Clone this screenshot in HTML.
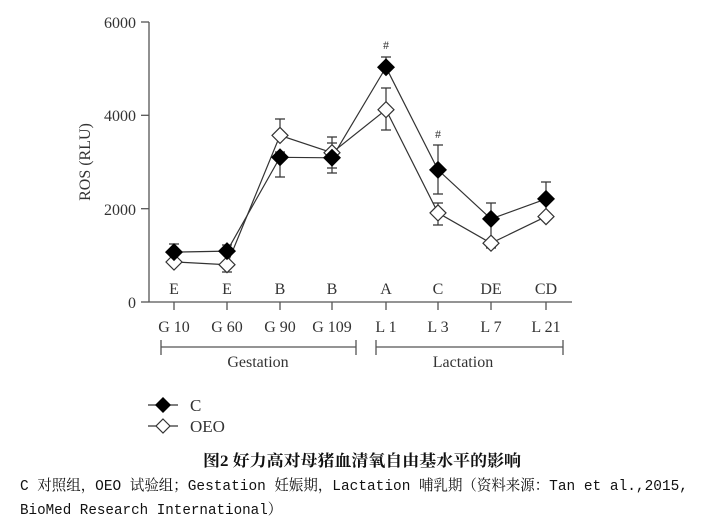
<!DOCTYPE html>
<html><head><meta charset="utf-8"><style>
body{margin:0;background:#fff;width:706px;height:524px;overflow:hidden;}
svg{display:block}
.t{font-family:"Liberation Serif",serif;fill:#333;}
</style></head><body>
<svg width="706" height="524" viewBox="0 0 706 524">
<g stroke="#555" stroke-width="1.3" fill="none">
<line x1="149" y1="22" x2="149" y2="302"/>
<line x1="149" y1="302" x2="572" y2="302"/>
<line x1="141" y1="22" x2="149" y2="22"/>
<line x1="141" y1="115.3" x2="149" y2="115.3"/>
<line x1="141" y1="208.7" x2="149" y2="208.7"/>
<line x1="141" y1="302" x2="149" y2="302"/>
<line x1="174" y1="302" x2="174" y2="310"/>
<line x1="227" y1="302" x2="227" y2="310"/>
<line x1="280" y1="302" x2="280" y2="310"/>
<line x1="332" y1="302" x2="332" y2="310"/>
<line x1="386" y1="302" x2="386" y2="310"/>
<line x1="438" y1="302" x2="438" y2="310"/>
<line x1="491" y1="302" x2="491" y2="310"/>
<line x1="546" y1="302" x2="546" y2="310"/>
<path d="M161 340V355M161 347H356M356 340V355"/>
<path d="M376 340V355M376 347H563M563 340V355"/>
</g>
<g class="t" font-size="16" text-anchor="end">
<text x="136" y="28">6000</text><text x="136" y="121">4000</text><text x="136" y="215">2000</text><text x="136" y="308">0</text>
</g>
<text class="t" font-size="16" text-anchor="middle" transform="translate(90 162) rotate(-90)">ROS (RLU)</text>
<g class="t" font-size="16" text-anchor="middle">
<text x="174" y="294">E</text><text x="227" y="294">E</text><text x="280" y="294">B</text><text x="332" y="294">B</text>
<text x="386" y="294">A</text><text x="438" y="294">C</text><text x="491" y="294">DE</text><text x="546" y="294">CD</text>
<text x="174" y="332">G 10</text><text x="227" y="332">G 60</text><text x="280" y="332">G 90</text><text x="332" y="332">G 109</text>
<text x="386" y="332">L 1</text><text x="438" y="332">L 3</text><text x="491" y="332">L 7</text><text x="546" y="332">L 21</text>
<text x="258" y="367">Gestation</text><text x="463" y="367">Lactation</text>
<text x="386" y="49" font-size="12">#</text><text x="438" y="138" font-size="12">#</text>
</g>
<g stroke="#333" stroke-width="1.2" fill="none">
<path d="M174 244V252M169 244H179"/>
<path d="M227 245V258M222 245H232M227 258V272M222 272H232"/>
<path d="M280 119V136M275 119H285M280 157V177M275 177H285M275 152H285"/>
<path d="M332 137V173M327 137H337M327 173H337M327 143H337M327 168H337"/>
<path d="M386 57V67M381 57H391M386 88V130M381 88H391M381 130H391"/>
<path d="M438 145V194M433 145H443M433 194H443M438 203V225M433 203H443M433 225H443"/>
<path d="M491 203V248M486 203H496M486 248H496"/>
<path d="M546 182V217M541 182H551"/>
<polyline points="174,252.1 227,251.1 280,157.3 332,157.8 386,67.3 438,169.9 491,218.9 546,198.9"/>
<polyline points="174,261.9 227,264.7 280,135.4 332,152.7 386,109.7 438,212.9 491,243.2 546,216.6"/>
</g>
<g fill="#fff" stroke="#333" stroke-width="1.2">
<path d="M174 254l8 8-8 8-8-8z"/><path d="M227 256.7l8 8-8 8-8-8z"/><path d="M280 127.4l8 8-8 8-8-8z"/><path d="M332 144.7l8 8-8 8-8-8z"/>
<path d="M386 101.7l8 8-8 8-8-8z"/><path d="M438 204.9l8 8-8 8-8-8z"/><path d="M491 235.2l8 8-8 8-8-8z"/><path d="M546 208.6l8 8-8 8-8-8z"/>
</g>
<g fill="#000">
<path d="M174 243.1l9 9-9 9-9-9z"/><path d="M227 242.1l9 9-9 9-9-9z"/><path d="M280 148.3l9 9-9 9-9-9z"/><path d="M332 148.8l9 9-9 9-9-9z"/>
<path d="M386 58.3l9 9-9 9-9-9z"/><path d="M438 160.9l9 9-9 9-9-9z"/><path d="M491 209.9l9 9-9 9-9-9z"/><path d="M546 189.9l9 9-9 9-9-9z"/>
</g>
<line x1="148" y1="405" x2="178" y2="405" stroke="#333" stroke-width="1.2"/>
<path d="M163 397l8 8-8 8-8-8z" fill="#000"/>
<line x1="148" y1="426" x2="178" y2="426" stroke="#333" stroke-width="1.2"/>
<path d="M163 419l7 7-7 7-7-7z" fill="#fff" stroke="#333" stroke-width="1.2"/>
<text class="t" x="190" y="411" font-size="17">C</text>
<text class="t" x="190" y="432" font-size="17">OEO</text>
<text x="362" y="466" text-anchor="middle" font-size="16" font-weight="bold" fill="#111" font-family="'Liberation Serif','Noto Serif CJK SC',serif" textLength="318" lengthAdjust="spacingAndGlyphs">图2 好力高对母猪血清氧自由基水平的影响</text>
<text x="20" y="490" font-size="15" fill="#111" font-family="'Liberation Mono','Noto Serif CJK SC',monospace" textLength="668" lengthAdjust="spacingAndGlyphs">C 对照组，OEO 试验组；Gestation 妊娠期，Lactation 哺乳期（资料来源：Tan et al.,2015,</text>
<text x="20" y="514" font-size="15" fill="#111" font-family="'Liberation Mono','Noto Serif CJK SC',monospace" textLength="262" lengthAdjust="spacingAndGlyphs">BioMed Research International）</text>
</svg>
</body></html>
